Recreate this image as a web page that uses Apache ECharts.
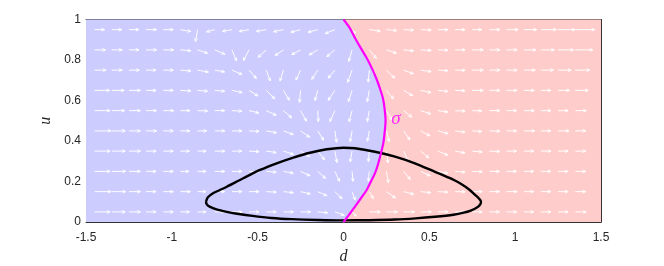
<!DOCTYPE html>
<html><head><meta charset="utf-8">
<script src="https://cdn.jsdelivr.net/npm/echarts@6/dist/echarts.min.js"></script>
<style>html,body{margin:0;padding:0;background:#fff}#c{width:664px;height:266px}</style>
</head><body><div id="c"></div>
<script>
// ---- data ----
const xTicks = [-1.5, -1, -0.5, 0, 0.5, 1, 1.5];
const yTicks = [0, 0.2, 0.4, 0.6, 0.8, 1];
// quiver grid
const colD = [-1.45,-1.35,-1.25,-1.15,-1.05,-0.95,-0.85,-0.75,-0.65,-0.55,-0.45,-0.35,-0.25,-0.15,-0.05,0.05,0.15,0.25,0.35,0.45,0.55,0.65,0.75,0.85,0.95,1.05,1.15,1.25,1.35];
const rowU = [0.05,0.15,0.25,0.35,0.45,0.55,0.65,0.75,0.85,0.95];
// arrow direction (deg) and relative magnitude per row (bottom to top)
const ang0 = [0,0,0,0,0, 0,0,0,0,0, 0,0,0,-5,-20, -45,0,0,0,0, 0,0,0,0,0, 0,0,0,0];
const mag0 = [1.55,1.35,1.15,1.0,1.0, 0.9,0.85,1.0,1.0,1.0, 1.0,1.0,1.0,1.0,1.0, 0.6,1.1,1.1,1.1,1.05, 1.0,1.0,1.0,1.0,1.0, 1.0,1.0,1.0,1.1];
const ang1 = [0,0,0,0,0, 0,0,0,0,0, -3,-6,-13,-24,-45, -70,-60,-35,-14,-6, -3,-1,0,0,0, 0,0,0,0];
const mag1 = [1.65,1.4,1.15,1.0,1.0, 1.0,0.85,1.0,1.0,1.0, 1.0,1.0,1.0,1.0,1.0, 0.9,0.8,1.1,1.05,1.0, 1.0,1.0,1.0,1.0,1.05, 1.0,1.0,1.0,1.05];
const ang2 = [0,0,0,0,0, 0,0,0,0,-2, -5,-10,-25,-42,-65, -85,-95,-80,-50,-25, -10,-5,-2,0,0, 0,0,0,0];
const mag2 = [1.55,1.4,1.15,1.0,1.0, 0.85,0.85,1.0,1.0,1.0, 1.0,1.0,1.05,1.05,1.1, 1.0,1.0,1.15,1.05,1.05, 1.0,1.0,1.0,1.0,1.0, 1.0,1.0,1.0,1.05];
const ang3 = [0,0,0,0,0, 0,0,0,0,-3, -8,-17,-30,-52,-80, -100,-95,-82,-65,-40, -22,-10,-5,-2,0, 0,0,0,0];
const mag3 = [1.55,1.35,1.15,1.0,1.0, 0.9,0.85,1.0,1.0,1.0, 1.0,1.05,1.05,1.1,1.15, 1.1,1.05,1.2,1.1,1.05, 1.05,1.0,1.0,1.05,1.0, 1.0,1.0,1.0,1.05];
const ang4 = [0,0,0,0,0, 0,0,0,0,-3, -10,-20,-35,-58,-82, -100,-100,-75,-55,-28, -15,-8,-4,-2,0, 0,0,0,0];
const mag4 = [1.65,1.35,1.15,1.05,1.0, 0.95,0.9,1.0,1.0,1.0, 1.05,1.05,1.1,1.1,1.15, 1.1,1.05,1.1,1.1,1.05, 1.05,1.0,0.95,1.05,1.0, 1.1,1.0,1.1,1.05];
const ang5 = [0,0,0,0,0, 0,-2,0,-3,-13, -25,-41,-61,-87,-115, -105,-100,-60,-38,-18, -8,-3,-1,0,0, 0,0,0,0];
const mag5 = [1.55,1.3,1.15,1.05,1.05, 0.95,1.0,1.0,1.0,1.0, 1.1,1.1,1.2,1.1,1.2, 1.15,1.1,1.1,1.05,1.05, 1.0,1.0,0.95,1.05,1.0, 1.05,1.0,1.0,1.1];
const ang6 = [0,0,0,0,0, -3,-5,-5,-12,-32, -45,-59,-95,-105,-124, -108,-100,-50,-30,-12, -6,-2,0,0,0, 0,0,0,0];
const mag6 = [1.5,1.25,1.15,1.0,1.0, 1.05,1.0,1.0,1.05,1.05, 1.2,1.15,1.2,1.05,1.2, 1.2,1.15,1.1,1.05,1.05, 1.0,1.0,1.1,1.05,1.05, 1.05,1.0,1.15,1.3];
const ang7 = [0,0,0,0,0, -5,-10,-10,-23,-49, -70,-107,-115,-123,-130, -110,-95,-44,-20,-8, -3,-1,0,0,0, 0,0,0,0];
const mag7 = [1.15,1.05,1.05,1.0,1.0, 1.05,1.1,1.0,1.1,1.1, 1.15,1.15,1.1,1.1,1.05, 1.3,1.2,1.15,1.05,1.05, 1.0,1.0,1.1,1.05,1.05, 1.15,1.25,1.3,1.45];
const ang8 = [0,0,0,0,0, -5,-18,-23,-67,-118, -138,-146,-152,-150,-140, -106,-50,-18,-6,-3, -2,0,0,0,0, 0,0,0,0];
const mag8 = [1.1,1.05,1.0,1.05,1.05, 1.05,1.05,1.1,1.2,1.2, 1.1,1.0,1.0,1.0,1.05, 1.2,1.1,1.05,1.0,1.05, 1.0,1.0,1.1,1.05,1.05, 1.2,1.35,1.55,1.75];
const ang9 = [0,0,0,0,0, -10,-100,-165,-170,-170, -170,-168,-165,-165,-158, -45,-8,-5,-3,-2, -1,0,0,0,0, 0,0,0,0];
const mag9 = [1.0,1.0,1.0,1.05,1.0, 1.05,1.2,0.85,0.95,1.0, 1.0,1.0,1.0,1.0,1.05, 0.5,1.1,1.05,1.0,1.05, 1.0,1.0,0.95,1.05,1.15, 1.3,1.55,1.7,1.95];
// switching curve sigma
const sigmaU = [0, 0.04, 0.076, 0.12, 0.158, 0.2, 0.24, 0.29, 0.339, 0.39, 0.438, 0.5, 0.562, 0.61, 0.66, 0.711, 0.76, 0.81, 0.86, 0.909, 0.96, 1];
const sigmaD = [0, 0.036, 0.067, 0.104, 0.135, 0.16, 0.183, 0.203, 0.218, 0.232, 0.239, 0.245, 0.239, 0.23, 0.212, 0.19, 0.165, 0.135, 0.1, 0.067, 0.035, 0];
// closed orbit
const loopD = [-0.801,-0.79,-0.76,-0.72,-0.68,-0.584,-0.486,-0.389,-0.292,-0.195,-0.098,0,0.067,0.183,0.30,0.416,0.533,0.605,0.649,0.69,0.73,0.765,0.79,0.801,0.795,0.775,0.745,0.70,0.64,0.533,0.42,0.30,0.15,0,-0.15,-0.30,-0.42,-0.53,-0.62,-0.68,-0.74,-0.78,-0.797,-0.801];
const loopU = [0.100,0.122,0.142,0.158,0.174,0.216,0.257,0.290,0.318,0.342,0.359,0.367,0.364,0.347,0.323,0.290,0.248,0.222,0.205,0.185,0.162,0.135,0.115,0.100,0.085,0.070,0.058,0.046,0.036,0.026,0.018,0.012,0.009,0.008,0.010,0.014,0.020,0.030,0.041,0.050,0.062,0.076,0.088,0.100];
const sigmaLabel = [[0.305, 0.51]];

// ---- build ----
const angRows = [ang0,ang1,ang2,ang3,ang4,ang5,ang6,ang7,ang8,ang9];
const magRows = [mag0,mag1,mag2,mag3,mag4,mag5,mag6,mag7,mag8,mag9];
const arrowData = [];
rowU.forEach((u, r) => colD.forEach((d, c) => arrowData.push([d, u, angRows[r][c], magRows[r][c]])));

const ARROW_PX = 10, HEAD = 3.4, HEAD_ANG = 24 * Math.PI / 180;
const axisColor = '#333';
const xMin = xTicks[0], xMax = xTicks[xTicks.length - 1];
const yMin = yTicks[0], yMax = yTicks[yTicks.length - 1];

const chart = echarts.init(document.getElementById('c'), null, {renderer: 'canvas'});
const baseX = {
  type: 'value', min: xMin, max: xMax, interval: 0.5,
  axisLine: {show: true, onZero: false, lineStyle: {color: axisColor, width: 1}},
  axisTick: {show: true, inside: true, length: 5, lineStyle: {color: axisColor}},
  splitLine: {show: false}
};
const baseY = {
  type: 'value', min: yMin, max: yMax, interval: 0.2,
  axisLine: {show: true, onZero: false, lineStyle: {color: axisColor, width: 1}},
  axisTick: {show: true, inside: true, length: 5, lineStyle: {color: axisColor}},
  splitLine: {show: false}
};
const option = {
  animation: false,
  grid: {left: 86, right: 63, top: 19.5, bottom: 44, containLabel: false, outerBoundsMode: 'none'},
  xAxis: [
    Object.assign({}, baseX, {position: 'bottom',
      axisLabel: {color: '#262626', fontSize: 12, fontFamily: 'Liberation Sans, Arial, sans-serif', margin: 10},
      name: 'd', nameLocation: 'middle', nameGap: 25,
      nameTextStyle: {fontStyle: 'italic', fontFamily: 'Liberation Serif, Times New Roman, serif', fontSize: 16, color: '#262626'}}),
    Object.assign({}, baseX, {position: 'top', axisLabel: {show: false}})
  ],
  yAxis: [
    Object.assign({}, baseY, {position: 'left',
      axisLabel: {color: '#262626', fontSize: 12, fontFamily: 'Liberation Sans, Arial, sans-serif', margin: 5},
      name: 'u', nameLocation: 'middle', nameGap: 32,
      nameTextStyle: {fontStyle: 'italic', fontFamily: 'Liberation Serif, Times New Roman, serif', fontSize: 16, color: '#262626'}}),
    Object.assign({}, baseY, {position: 'right', axisLabel: {show: false}})
  ],
  series: [
    {
      type: 'custom', name: 'regions', z: 1, silent: true,
      data: [[0, 0]],
      renderItem: function (params, api) {
        const pts = sigmaD.map((d, i) => api.coord([d, sigmaU[i]]));
        const blue = [api.coord([xMin, yMin])].concat(pts, [api.coord([xMin, yMax])]);
        const red = [api.coord([xMax, yMin])].concat(pts, [api.coord([xMax, yMax])]);
        return {type: 'group', children: [
          {type: 'polygon', shape: {points: blue}, style: {fill: 'rgb(204,204,255)', stroke: null}},
          {type: 'polygon', shape: {points: red}, style: {fill: 'rgb(255,204,204)', stroke: null}}
        ]};
      }
    },
    {
      type: 'custom', name: 'field', z: 2, silent: true, clip: true,
      data: arrowData,
      renderItem: function (params, api) {
        const p = api.coord([api.value(0), api.value(1)]);
        const a = api.value(2) * Math.PI / 180;
        const L = api.value(3) * ARROW_PX;
        const hx = p[0] + L * Math.cos(a), hy = p[1] - L * Math.sin(a);
        const back = Math.atan2(p[1] - hy, p[0] - hx);
        const h = Math.min(HEAD, 0.45 * L);
        const l1 = [hx + h * Math.cos(back + HEAD_ANG), hy + h * Math.sin(back + HEAD_ANG)];
        const l2 = [hx + h * Math.cos(back - HEAD_ANG), hy + h * Math.sin(back - HEAD_ANG)];
        const st = {stroke: 'rgba(255,255,255,0.95)', lineWidth: 1, fill: null};
        return {type: 'group', children: [
          {type: 'line', shape: {x1: p[0], y1: p[1], x2: hx, y2: hy}, style: st},
          {type: 'polyline', shape: {points: [l1, [hx, hy], l2]}, style: st}
        ]};
      }
    },
    {
      type: 'line', name: 'orbit', z: 3, silent: true, showSymbol: false, smooth: 0.3,
      data: loopD.map((d, i) => [d, loopU[i]]),
      lineStyle: {color: '#000', width: 2.4}
    },
    {
      type: 'line', name: 'sigma', z: 4, silent: true, showSymbol: false, smooth: 0.3,
      data: sigmaD.map((d, i) => [d, sigmaU[i]]),
      lineStyle: {color: '#ff00ff', width: 2.2}
    },
    {
      type: 'scatter', name: 'sigmaLabel', z: 5, silent: true, symbolSize: 0,
      data: sigmaLabel,
      label: {show: true, position: 'inside', formatter: 'σ', color: '#ff00ff',
        fontStyle: 'italic', fontFamily: 'Liberation Serif, Times New Roman, serif', fontSize: 19}
    }
  ]
};
chart.setOption(option);
</script></body></html>
